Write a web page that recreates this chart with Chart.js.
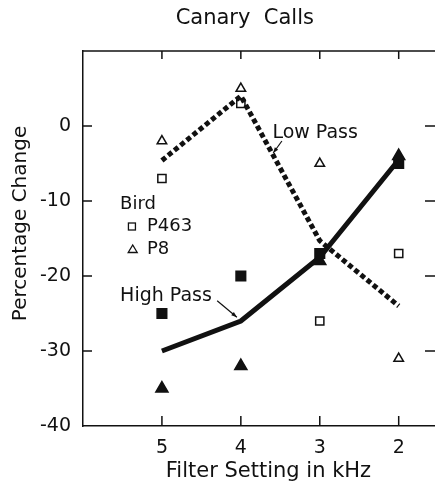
<!DOCTYPE html>
<html>
<head>
<meta charset="utf-8">
<script src="https://cdn.jsdelivr.net/npm/chart.js@4.4.0/dist/chart.umd.min.js"></script>
<style>
  html, body { margin: 0; padding: 0; background: #fff; overflow: hidden; }
  #wrap { width: 435px; height: 484px; }
</style>
</head>
<body>
<div id="wrap"><canvas id="chart" width="435" height="484"></canvas></div>
<script>
// Filter settings (kHz), plotted high to low
const filterKHz = [5, 4, 3, 2];

// Low pass filter, percentage change
const lowP463 = [-7, 3, -26, -17];
const lowP8 = [-2, 5, -5, -31];
const lowPassLine = [-4.6, 4, -15.3, -24];

// High pass filter, percentage change
const highP463 = [-25, -20, -17, -5];
const highP8 = [-35, -32, -18, -4];
const highPassLine = [-30, -26, -17.5, -4.5];

const yTicks = [-40, -30, -20, -10, 0, 10];
const yTickLabels = ['-40', '-30', '-20', '-10', '0', ''];

const FONT = '"DejaVu Sans", sans-serif';
const INK = '#111';

function pts(values) {
    return filterKHz.map((x, i) => ({ x: x, y: values[i] }));
}

// Draw frame ticks, top border, titles and the in-plot annotations
const annotationPlugin = {
    id: 'annotations',
    afterDatasetsDraw(chart) {
        const ctx = chart.ctx;
        const xs = chart.scales.x;
        const ys = chart.scales.y;
        const area = chart.chartArea;
        const px = v => xs.getPixelForValue(v);
        const py = v => ys.getPixelForValue(v);

        ctx.save();
        ctx.strokeStyle = INK;
        ctx.fillStyle = INK;
        ctx.lineWidth = 1.5;

        // top border
        ctx.beginPath();
        ctx.moveTo(area.left, area.top);
        ctx.lineTo(area.right, area.top);
        ctx.stroke();

        // inward ticks on y (left and right)
        yTicks.forEach(v => {
            if (v === -40 || v === 10) return;
            const y = py(v);
            ctx.beginPath();
            ctx.moveTo(area.left, y);
            ctx.lineTo(area.left + 9, y);
            ctx.moveTo(area.right, y);
            ctx.lineTo(area.right - 10, y);
            ctx.stroke();
        });
        // inward ticks on x (bottom and top)
        filterKHz.forEach(v => {
            const x = px(v);
            ctx.beginPath();
            ctx.moveTo(x, area.bottom);
            ctx.lineTo(x, area.bottom - 10);
            ctx.moveTo(x, area.top);
            ctx.lineTo(x, area.top + 8);
            ctx.stroke();
        });

        // chart title and axis titles
        ctx.textBaseline = 'middle';
        ctx.textAlign = 'center';
        ctx.font = '21px ' + FONT;
        ctx.fillText('Canary  Calls', px(3.95), 19);
        ctx.fillText('Filter Setting in kHz', px(3.65), 472);
        ctx.save();
        ctx.translate(21, py(-13));
        ctx.rotate(-Math.PI / 2);
        ctx.font = '20px ' + FONT;
        ctx.fillText('Percentage Change', 0, 0);
        ctx.restore();

        // key
        ctx.font = '18px ' + FONT;
        ctx.textAlign = 'left';
        ctx.fillText('Bird', px(5.53), py(-10.5));
        ctx.fillText('P463', px(5.19), py(-13.4));
        ctx.fillText('P8', px(5.19), py(-16.4));

        ctx.lineWidth = 1.3;
        const sx = px(5.38), sy = py(-13.4);
        ctx.strokeRect(sx - 3.5, sy - 3.5, 7, 7);
        const tx = px(5.37), ty = py(-16.4);
        ctx.beginPath();
        ctx.moveTo(tx - 4.5, ty + 3.5);
        ctx.lineTo(tx + 4.5, ty + 3.5);
        ctx.lineTo(tx, ty - 4);
        ctx.closePath();
        ctx.stroke();

        // line labels with leaders
        ctx.font = '19px ' + FONT;
        ctx.fillText('Low Pass', px(3.6), py(-0.9));
        ctx.fillText('High Pass', px(5.53), py(-22.7));

        drawArrow(ctx, px(3.48), py(-2.0), px(3.59), py(-3.6));
        drawArrow(ctx, px(4.3), py(-23.3), px(4.05), py(-25.5));
        ctx.restore();
    }
};

function drawArrow(ctx, x1, y1, x2, y2) {
    ctx.lineWidth = 1.2;
    ctx.beginPath();
    ctx.moveTo(x1, y1);
    ctx.lineTo(x2, y2);
    ctx.stroke();
    const a = Math.atan2(y2 - y1, x2 - x1);
    const len = 6;
    ctx.beginPath();
    ctx.moveTo(x2, y2);
    ctx.lineTo(x2 - len * Math.cos(a - 0.35), y2 - len * Math.sin(a - 0.35));
    ctx.lineTo(x2 - len * Math.cos(a + 0.35), y2 - len * Math.sin(a + 0.35));
    ctx.closePath();
    ctx.fill();
}

const markerBase = {
    showLine: false,
    borderColor: INK,
    borderWidth: 1.5
};

new Chart(document.getElementById('chart'), {
    type: 'scatter',
    data: {
        datasets: [
            {
                label: 'Low Pass',
                data: pts(lowPassLine),
                showLine: true,
                borderColor: INK,
                borderWidth: 5,
                borderDash: [5, 3],
                pointRadius: 0,
                fill: false
            },
            {
                label: 'High Pass',
                data: pts(highPassLine),
                showLine: true,
                borderColor: INK,
                borderWidth: 5,
                pointRadius: 0,
                fill: false
            },
            Object.assign({}, markerBase, {
                label: 'P463 low',
                data: pts(lowP463),
                pointStyle: 'rect',
                pointRadius: 5.8,
                backgroundColor: '#fff'
            }),
            Object.assign({}, markerBase, {
                label: 'P8 low',
                data: pts(lowP8),
                pointStyle: 'triangle',
                pointRadius: 5.5,
                backgroundColor: '#fff'
            }),
            Object.assign({}, markerBase, {
                label: 'P463 high',
                data: pts(highP463),
                pointStyle: 'rect',
                pointRadius: 6.8,
                backgroundColor: INK
            }),
            Object.assign({}, markerBase, {
                label: 'P8 high',
                data: pts(highP8),
                pointStyle: 'triangle',
                pointRadius: 7,
                backgroundColor: INK
            })
        ]
    },
    options: {
        responsive: false,
        animation: false,
        layout: { autoPadding: false, padding: { top: 51, left: 0, right: 0, bottom: 0 } },
        plugins: {
            legend: { display: false },
            tooltip: { enabled: false },
            title: { display: false }
        },
        scales: {
            x: {
                type: 'linear',
                reverse: true,
                min: 1.54,
                max: 6,
                afterFit: s => {
                    s.height = 58;
                    s.paddingLeft = 0;
                    s.paddingRight = 0;
                },
                afterBuildTicks: s => { s.ticks = filterKHz.map(v => ({ value: v })); },
                grid: { display: false },
                border: { display: true, color: INK, width: 1.5 },
                ticks: {
                    color: INK,
                    padding: 3,
                    font: { family: FONT, size: 19 },
                    callback: v => String(v)
                }
            },
            y: {
                min: -40,
                max: 10,
                afterFit: s => {
                    s.width = 83;
                    s.paddingTop = 0;
                    s.paddingBottom = 0;
                },
                afterBuildTicks: s => { s.ticks = yTicks.map(v => ({ value: v })); },
                grid: { display: false },
                border: { display: true, color: INK, width: 1.5 },
                ticks: {
                    color: INK,
                    padding: 4,
                    font: { family: FONT, size: 19 },
                    callback: v => yTickLabels[yTicks.indexOf(v)]
                }
            }
        }
    },
    plugins: [annotationPlugin]
});
</script>
</body>
</html>
